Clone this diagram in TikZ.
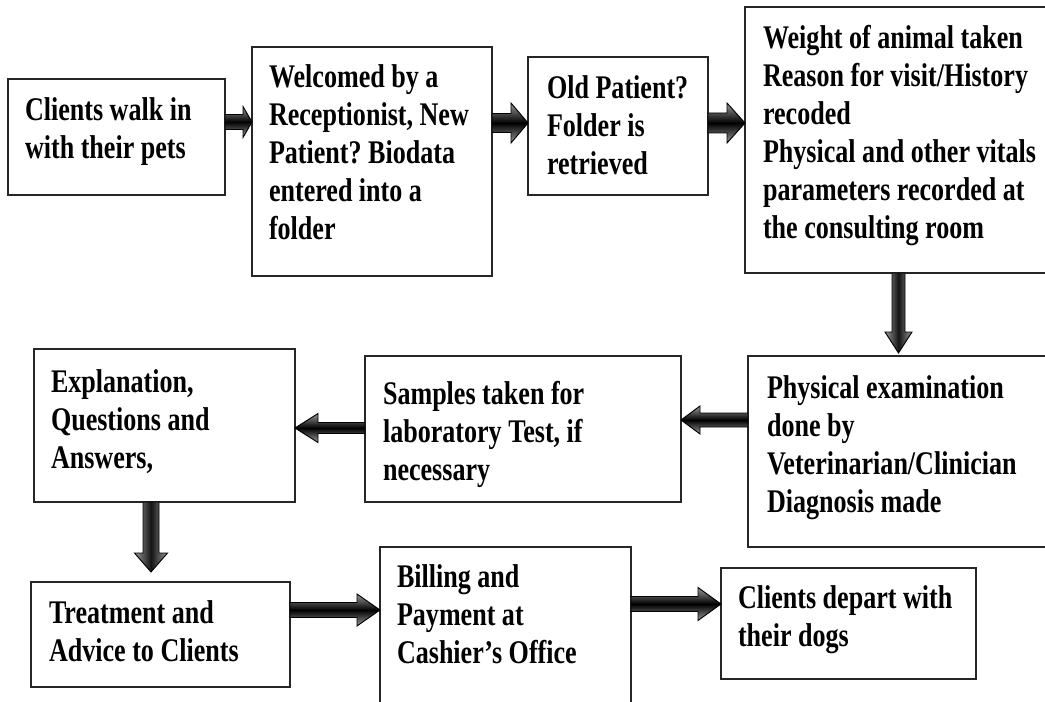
\documentclass[tikz,border=0pt]{standalone}
\usepackage{fontspec}
\usetikzlibrary{calc}
\newfontfamily\bxfont{Liberation Serif}[FakeStretch=0.79]
\frenchspacing
\newcommand\tl[1]{\begin{tabular}[t]{@{}l@{}}#1\end{tabular}}
% right-pointing block arrow: start, end, shaft half, head half, head length (px)
\newcommand\rarr[5]{\path[harr] let \p1=(#1), \p2=(#2) in
  (\x1,{\y1+#3*0.75pt}) -- ({\x2-#5*0.75pt},{\y1+#3*0.75pt}) -- ({\x2-#5*0.75pt},{\y1+#4*0.75pt}) -- (\x2,\y1)
  -- ({\x2-#5*0.75pt},{\y1-#4*0.75pt}) -- ({\x2-#5*0.75pt},{\y1-#3*0.75pt}) -- (\x1,{\y1-#3*0.75pt}) -- cycle;}
\newcommand\larr[5]{\path[harr] let \p1=(#1), \p2=(#2) in
  (\x1,{\y1+#3*0.75pt}) -- ({\x2+#5*0.75pt},{\y1+#3*0.75pt}) -- ({\x2+#5*0.75pt},{\y1+#4*0.75pt}) -- (\x2,\y1)
  -- ({\x2+#5*0.75pt},{\y1-#4*0.75pt}) -- ({\x2+#5*0.75pt},{\y1-#3*0.75pt}) -- (\x1,{\y1-#3*0.75pt}) -- cycle;}
\newcommand\darr[5]{\path[varr] let \p1=(#1), \p2=(#2) in
  ({\x1-#3*0.75pt},\y1) -- ({\x1-#3*0.75pt},{\y2+#5*0.75pt}) -- ({\x1-#4*0.75pt},{\y2+#5*0.75pt}) -- (\x1,\y2)
  -- ({\x1+#4*0.75pt},{\y2+#5*0.75pt}) -- ({\x1+#3*0.75pt},{\y2+#5*0.75pt}) -- ({\x1+#3*0.75pt},\y1) -- cycle;}
\newcommand\bbox[5]{\node[box, anchor=north west, minimum width={(#4-#2)*0.75pt}, minimum height={(#5-#3)*0.75pt}] (#1) at (#2,#3) {};}
\begin{document}
\begin{tikzpicture}[x=0.75pt,y=-0.75pt,
  box/.style={draw=black!85, line width=1.1pt, fill=white, inner sep=0pt, outer sep=0pt},
  txt/.style={inner sep=0pt, outer sep=0pt, anchor=base west, text=black,
    font=\bxfont\bfseries\fontsize{24.75pt}{28.5pt}\selectfont},
  harr/.style={draw=black, line width=0.7pt, top color=black!40, bottom color=black!40, middle color=black},
  varr/.style={draw=black, line width=0.7pt, left color=black!40, right color=black!40, middle color=black!92}]
\useasboundingbox (0,0) rectangle (1045,702);
\clip (0,0) rectangle (1045,702);
\fill[white] (0,0) rectangle (1045,702);
% boxes
\bbox{b1}{8}{79}{225}{195}
\bbox{b2}{252}{47}{492}{276}
\bbox{b3}{528}{57}{708}{195}
\bbox{b4}{745}{7}{1052}{273}
\bbox{b5}{748}{356}{1052}{547}
\bbox{b6}{365}{356}{681}{502}
\bbox{b7}{34}{349}{295}{502}
\bbox{b8}{31}{582}{290}{687}
\bbox{b9}{380}{547}{631}{712}
\bbox{b10}{721}{568}{976}{679}
% texts
\node[txt] (t1) at (25,121) {\tl{Clients walk in\\with their pets}};
\node[txt] (t2) at (269,88) {\tl{Welcomed by a\\Receptionist, New\\Patient? Biodata\\entered into a\\folder}};
\node[txt] (t3) at (547,99) {\tl{Old Patient?\\Folder is\\retrieved}};
\node[txt] (t4) at (763,49) {\tl{Weight of animal taken\\Reason for visit/History\\recoded\\Physical and other vitals\\parameters recorded at\\the consulting room}};
\node[txt] (t5) at (767,398) {\tl{Physical examination\\done by\\Veterinarian/Clinician\\Diagnosis made}};
\node[txt] (t6) at (383,404) {\tl{Samples taken for\\laboratory Test, if\\necessary}};
\node[txt] (t7) at (51,392) {\tl{Explanation,\\Questions and\\Answers,}};
\node[txt] (t8) at (49,623) {\tl{Treatment and\\Advice to Clients}};
\node[txt] (t9) at (397,587) {\tl{Billing and\\Payment at\\Cashier’s Office}};
\node[txt] (t10) at (738,608) {\tl{Clients depart with\\their dogs}};
% arrows
\rarr{$(b1.east)+(0,-15)$}{b2.west}{7.5}{15.5}{9}
\rarr{$(b2.east)+(0,-38.5)$}{b3.west}{9.5}{20}{17}
\rarr{$(b3.east)+(0,-3)$}{b4.west}{10}{20}{18}
\darr{b4.south}{$(b5.north)+(0,-3)$}{6.5}{13.5}{21}
\larr{$(b5.west)+(0,-31.5)$}{b6.east}{7}{14}{19}
\larr{$(b6.west)+(0,-1)$}{b7.east}{5.5}{14.5}{23}
\darr{$(b7.south)+(-13.5,0)$}{$(b8.north)+(-13.5,-10)$}{8}{16.5}{19}
\rarr{$(b8.east)+(0,-24.5)$}{b9.west}{7.5}{16}{23}
\rarr{$(b9.east)+(0,-25.5)$}{b10.west}{7.5}{16.5}{23}
\end{tikzpicture}
\end{document}
